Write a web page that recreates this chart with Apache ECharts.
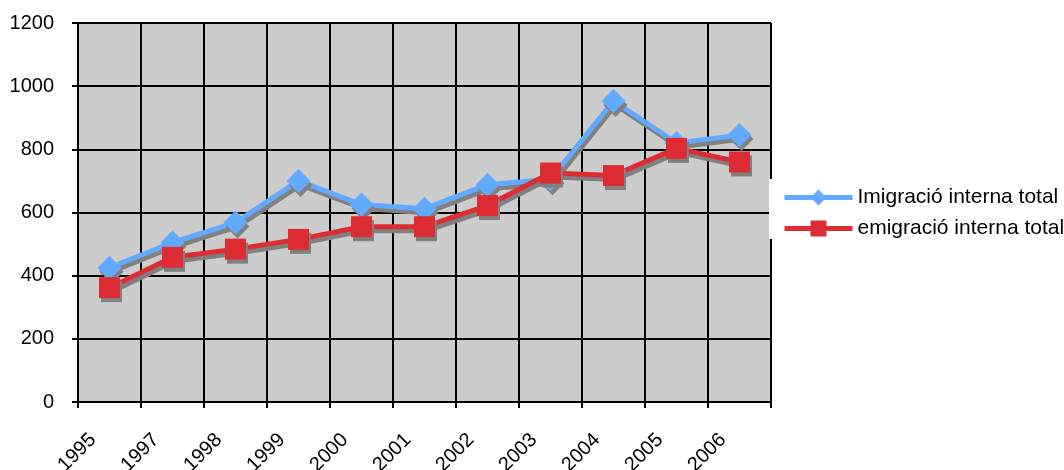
<!DOCTYPE html>
<html>
<head>
<meta charset="utf-8">
<script src="https://cdn.jsdelivr.net/npm/echarts@6/dist/echarts.min.js"></script>
<style>
  html, body { margin: 0; padding: 0; background: #fff; }
  #chart { width: 1064px; height: 470px; }
</style>
</head>
<body>
<div id="chart"></div>
<script>
// etiquetes de l'eix X (una per categoria, a la vora esquerra)
const years = ['1995', '1997', '1998', '1999', '2000', '2001', '2002', '2003', '2004', '2005', '2006'];
const immigration = [425, 505, 568, 700, 625, 612, 688, 705, 953, 820, 845];
const emigration = [362, 458, 484, 515, 555, 555, 622, 725, 717, 803, 760];

const FONT = '"Liberation Sans", Arial, sans-serif';
const shadow = { shadowColor: '#808080', shadowBlur: 0, shadowOffsetX: 2, shadowOffsetY: 4 };

// punts al centre de cada categoria
function toPoints(values) {
  return values.map((v, i) => [i + 0.5, v]);
}

const chart = echarts.init(document.getElementById('chart'));
chart.setOption({
  animation: false,
  textStyle: { fontFamily: FONT },
  grid: {
    left: 78, top: 23, right: 293, bottom: 68,
    outerBoundsMode: 'none',
    show: true, backgroundColor: '#cccccc', borderWidth: 0
  },
  legend: {
    orient: 'vertical',
    left: 769,
    top: 179,
    padding: [8, 20, 0, 13],
    backgroundColor: '#ffffff',
    itemWidth: 68,
    itemHeight: 20,
    itemGap: 10,
    textStyle: { fontSize: 21, color: '#000', fontFamily: FONT },
    itemStyle: { shadowColor: 'transparent' },
    lineStyle: { width: 5, shadowColor: 'transparent' },
    data: ['Imigració interna total', 'emigració interna total']
  },
  xAxis: {
    type: 'value',
    min: 0,
    max: 11,
    interval: 1,
    axisLine: { show: true, onZero: false, lineStyle: { color: '#000', width: 2 } },
    axisTick: { show: true, length: 6, lineStyle: { color: '#000', width: 2 } },
    splitLine: { show: true, lineStyle: { color: '#000', width: 2 } },
    axisLabel: {
      rotate: 45,
      fontSize: 20,
      color: '#000',
      margin: 20,
      verticalAlign: 'top',
      lineHeight: 42,
      formatter: v => years[v] || ''
    }
  },
  yAxis: {
    type: 'value',
    min: 0,
    max: 1200,
    interval: 200,
    axisLine: { show: true, lineStyle: { color: '#000', width: 2 } },
    axisTick: { show: true, length: 6, lineStyle: { color: '#000', width: 2 } },
    splitLine: { show: true, lineStyle: { color: '#000', width: 2 } },
    axisLabel: { fontSize: 20, color: '#000', margin: 24, formatter: v => String(v) }
  },
  series: [
    {
      name: 'Imigració interna total',
      type: 'line',
      data: toPoints(immigration),
      symbol: 'diamond',
      symbolSize: 24,
      color: '#62aaff',
      lineStyle: Object.assign({ width: 5, color: '#62aaff' }, shadow),
      itemStyle: Object.assign({ color: '#62aaff' }, shadow),
      z: 2
    },
    {
      name: 'emigració interna total',
      type: 'line',
      data: toPoints(emigration),
      symbol: 'rect',
      symbolSize: 21,
      color: '#de2c34',
      lineStyle: Object.assign({ width: 5, color: '#de2c34' }, shadow),
      itemStyle: Object.assign({ color: '#de2c34' }, shadow),
      z: 3
    }
  ]
});
</script>
</body>
</html>
